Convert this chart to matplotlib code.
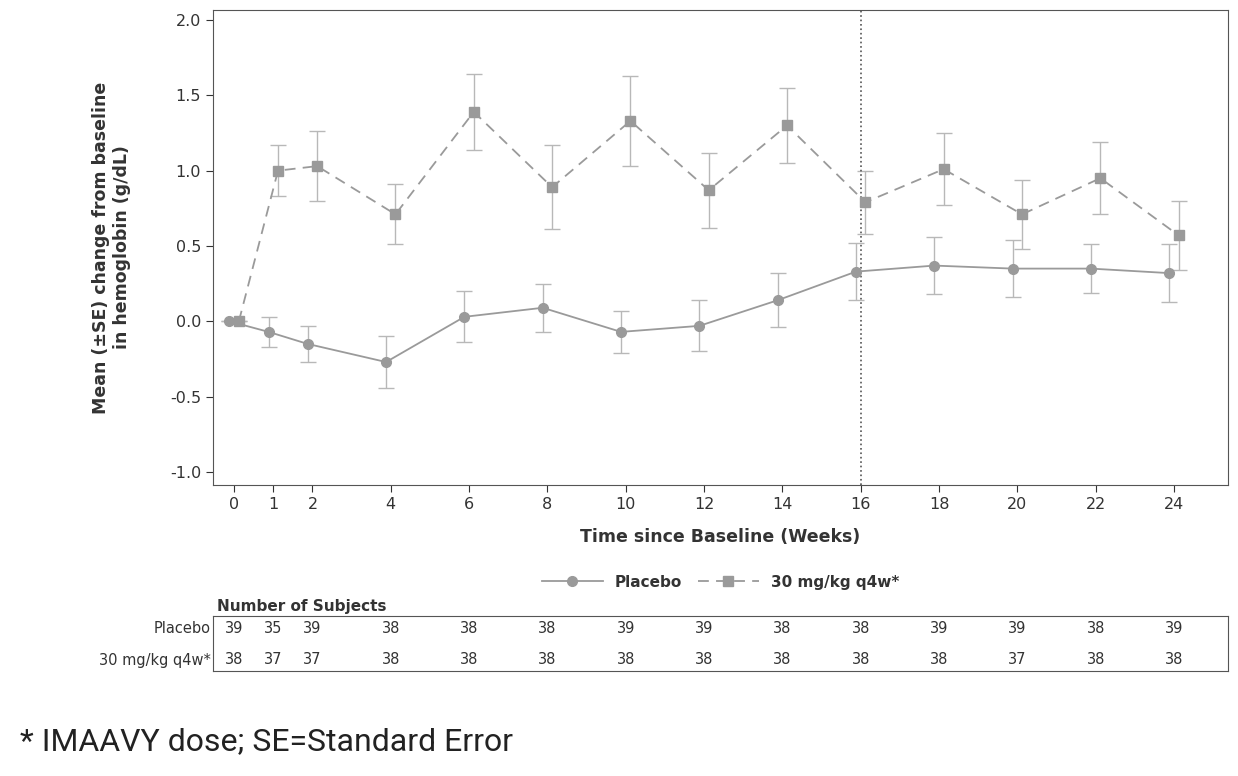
import matplotlib
matplotlib.use("Agg")
import matplotlib.pyplot as plt
from matplotlib.lines import Line2D

weeks = [0, 1, 2, 4, 6, 8, 10, 12, 14, 16, 18, 20, 22, 24]
placebo = [0, -0.07, -0.15, -0.27, 0.03, 0.09, -0.07, -0.03, 0.14, 0.33, 0.37, 0.35, 0.35, 0.32]
placebo_se = [0, 0.10, 0.12, 0.17, 0.17, 0.16, 0.14, 0.17, 0.18, 0.19, 0.19, 0.19, 0.16, 0.19]
dose = [0, 1.00, 1.03, 0.71, 1.39, 0.89, 1.33, 0.87, 1.30, 0.79, 1.01, 0.71, 0.95, 0.57]
dose_se = [0, 0.17, 0.23, 0.20, 0.25, 0.28, 0.30, 0.25, 0.25, 0.21, 0.24, 0.23, 0.24, 0.23]
n_placebo = [39, 35, 39, 38, 38, 38, 39, 39, 38, 38, 39, 39, 38, 39]
n_dose = [38, 37, 37, 38, 38, 38, 38, 38, 38, 38, 38, 37, 38, 38]
xticks = weeks
yticks = [-1.0, -0.5, 0.0, 0.5, 1.0, 1.5, 2.0]

W, H = 1238, 776
fig = plt.figure(figsize=(W/100, H/100), dpi=100)
ax = fig.add_axes([213/W, 1-485/H, (1228-213)/W, (485-10)/H])
grey = "#9a9a9a"
off = 0.12
dash = (0, (6, 4))
ax.errorbar([w - off for w in weeks], placebo, yerr=placebo_se, color=grey, marker="o", ms=7,
            lw=1.3, ecolor="#b8b8b8", elinewidth=1, capsize=6)
ax.errorbar([w + off for w in weeks], dose, yerr=dose_se, color=grey, marker="s", ms=7,
            lw=1.3, ls=dash, ecolor="#b8b8b8", elinewidth=1, capsize=6)
ax.axvline(16, color="#555555", ls=":", lw=1.2)
ax.set_xlim(-0.54, 25.38)
ax.set_ylim(-1.086, 2.066)
ax.set_xticks(xticks)
ax.set_yticks(yticks)
ax.set_yticklabels([f"{v:.1f}" for v in yticks])
ax.tick_params(labelsize=11.5, colors="#333333", length=5)
for s in ax.spines.values():
    s.set_color("#555555")
ax.set_xlabel("Time since Baseline (Weeks)", fontsize=12.5, fontweight="bold", color="#333333", labelpad=12)
ax.set_ylabel("Mean (±SE) change from baseline\nin hemoglobin (g/dL)", fontsize=12.5,
              fontweight="bold", color="#333333", labelpad=28)
handles = [Line2D([], [], color=grey, marker="o", ms=7, lw=1.3),
           Line2D([], [], color=grey, marker="s", ms=7, lw=1.3, ls=dash)]
leg = ax.legend(handles, ["Placebo", "30 mg/kg q4w*"], loc="upper center", bbox_to_anchor=(0.5, -0.16),
                ncol=2, frameon=False, prop={"weight": "bold", "size": 11}, handlelength=4,
                columnspacing=1.0)
for t in leg.get_texts():
    t.set_color("#333333")

tax = fig.add_axes([213/W, 1-671/H, (1228-213)/W, (671-616)/H])
tax.set_xlim(-0.54, 25.38)
tax.set_ylim(0, 1)
tax.set_xticks([]); tax.set_yticks([])
for s in tax.spines.values():
    s.set_color("#555555")
for w, a, b in zip(weeks, n_placebo, n_dose):
    tax.text(w, 0.78, str(a), ha="center", va="center", fontsize=10.5, color="#333333")
    tax.text(w, 0.2, str(b), ha="center", va="center", fontsize=10.5, color="#333333")
tax.text(-0.6, 0.78, "Placebo", ha="right", va="center", fontsize=10.5, color="#333333")
tax.text(-0.6, 0.2, "30 mg/kg q4w*", ha="right", va="center", fontsize=10.5, color="#333333")
fig.text(217/W, 1-607/H, "Number of Subjects", fontsize=11, fontweight="bold",
         color="#333333", va="center")
fig.text(20/W, 1-742/H, "* IMAAVY dose; SE=Standard Error", fontsize=23,
         family="Roboto", color="#222222", va="center")
fig.savefig("out.png", dpi=100)
